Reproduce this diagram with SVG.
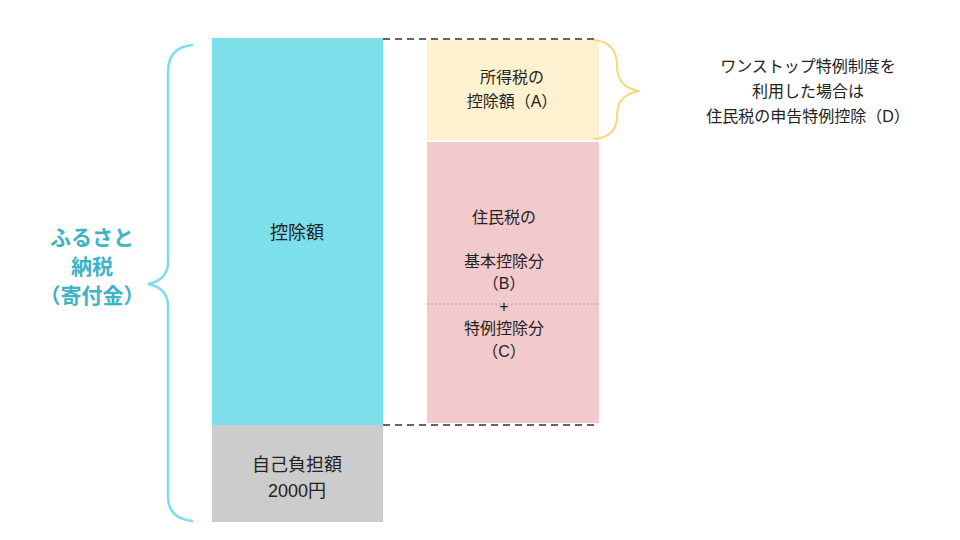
<svg xmlns="http://www.w3.org/2000/svg" width="960" height="540" viewBox="0 0 960 540">
<style>
text{font-family:"Liberation Sans","Noto Sans CJK JP",sans-serif;fill:#222;text-anchor:middle}
.t{font-size:18px}
.s{font-size:16px}
.big{font-size:21px;font-weight:bold;fill:#3fb3c6}
.dash{stroke:#666;stroke-width:2;stroke-dasharray:7 5;fill:none}
</style>
<rect width="960" height="540" fill="#fff"/>
<g id="kojo"><rect x="212" y="38" width="171" height="387" fill="#7ddfea"/><text class="t" x="297" y="239">控除額</text></g>
<g id="jiko"><rect x="212" y="425" width="171" height="97" fill="#cccccc"/><text class="t" x="297" y="471">自己負担額</text><text class="t" x="297" y="497">2000円</text></g>
<g id="shotoku"><rect x="427" y="40" width="172" height="100" fill="#fdf1cf"/><text class="s" x="512" y="83">所得税の</text><text class="s" x="512" y="107">控除額（A）</text></g>
<g id="jumin"><rect x="427" y="142" width="172" height="281" fill="#f3cacb"/>
<line x1="427" y1="304" x2="599" y2="304" stroke="#999" stroke-width="0.8" stroke-dasharray="2 2"/>
<text class="s" x="504" y="223">住民税の</text><text class="s" x="504" y="267">基本控除分</text><text class="s" x="504" y="289">（B）</text><text class="s" x="504" y="312">+</text><text class="s" x="504" y="334">特例控除分</text><text class="s" x="504" y="357">（C）</text></g>
<g id="furusato"><path d="M193 45 Q168 47 168 72 L168 262 Q168 280 148 284 Q168 288 168 306 L168 496 Q168 519 193 521" fill="none" stroke="#7ddfea" stroke-width="2.5"/>
<text class="big" x="92" y="245">ふるさと</text><text class="big" x="92" y="274">納税</text><text class="big" x="92" y="303">（寄付金）</text></g>
<g id="onestop"><path d="M594 40 Q617 42 617 66 Q617 88 640 91 Q617 94 617 116 Q617 137 594 139" fill="none" stroke="#fbd77a" stroke-width="2"/>
<text class="s" x="808" y="72">ワンストップ特例制度を</text><text class="s" x="808" y="97">利用した場合は</text><text class="s" x="808" y="122">住民税の申告特例控除（D）</text></g>
<g id="connectors"><line class="dash" x1="383" y1="39" x2="599" y2="39"/><line class="dash" x1="383" y1="425" x2="599" y2="425"/></g>
</svg>
